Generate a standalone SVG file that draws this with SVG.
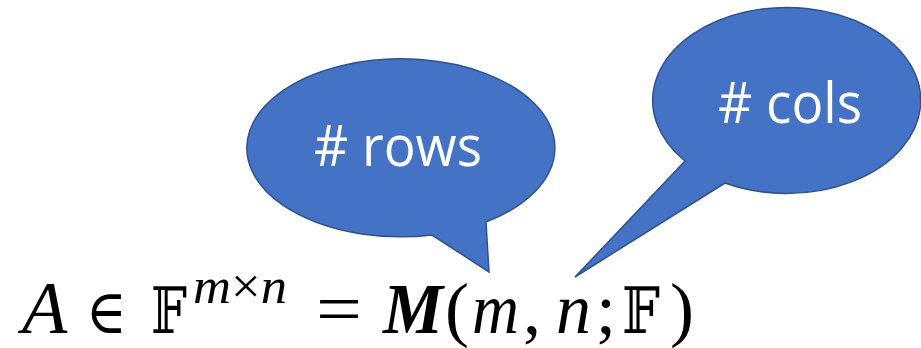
<svg xmlns="http://www.w3.org/2000/svg" width="921" height="348" viewBox="0 0 921 348">
<style>
.bub{fill:#4472C4;stroke:#2F528F;stroke-width:1.5;stroke-linejoin:miter}
.lbl{font-family:"Open Sans","Liberation Sans",sans-serif;fill:#FFFFFF;font-size:56px}
.m{font-family:"Liberation Serif","DejaVu Serif",serif;fill:#000000}
.it{font-style:italic}
.ds{font-family:"DejaVu Serif","DejaVu Sans","Noto Sans",serif}
</style>
<rect width="921" height="348" fill="#FFFFFF"/>
<g id="rows">
<path class="bub" d="M 486,222 L 489,272 L 432,235 A 154 89 0 1 1 486,222 Z"/>
<text class="lbl" x="314" y="166" textLength="168" lengthAdjust="spacingAndGlyphs"># rows</text>
</g>
<g id="cols">
<path class="bub" d="M 725,183 L 575,277 L 685,161 A 134 93 0 1 1 725,183 Z"/>
<text class="lbl" x="718" y="123" textLength="144" lengthAdjust="spacingAndGlyphs"># cols</text>
</g>
<g id="formula" class="m">
<text class="it" x="22" y="333" font-size="74">A</text>
<text class="ds" x="86" y="333" font-size="62" textLength="41" lengthAdjust="spacingAndGlyphs">∈</text>
<text class="ds" x="151" y="333" font-size="64" textLength="36" lengthAdjust="spacingAndGlyphs">𝔽</text>
<text x="193" y="303" font-size="50" textLength="94" lengthAdjust="spacingAndGlyphs"><tspan class="it">m</tspan>×<tspan class="it">n</tspan></text>
<text x="316" y="333" font-size="72" textLength="46" lengthAdjust="spacingAndGlyphs">=</text>
<text class="it" x="383" y="333" font-size="72" font-weight="bold" textLength="60" lengthAdjust="spacingAndGlyphs">M</text>
<text x="445" y="333" font-size="72">(</text>
<text class="it" x="472" y="333" font-size="72" textLength="47" lengthAdjust="spacingAndGlyphs">m</text>
<text x="523" y="333" font-size="72">,</text>
<text class="it" x="556" y="333" font-size="72" textLength="35" lengthAdjust="spacingAndGlyphs">n</text>
<text x="596" y="333" font-size="72">;</text>
<text class="ds" x="622" y="333" font-size="64" textLength="38" lengthAdjust="spacingAndGlyphs">𝔽</text>
<text x="670" y="333" font-size="72">)</text>
</g>
</svg>
